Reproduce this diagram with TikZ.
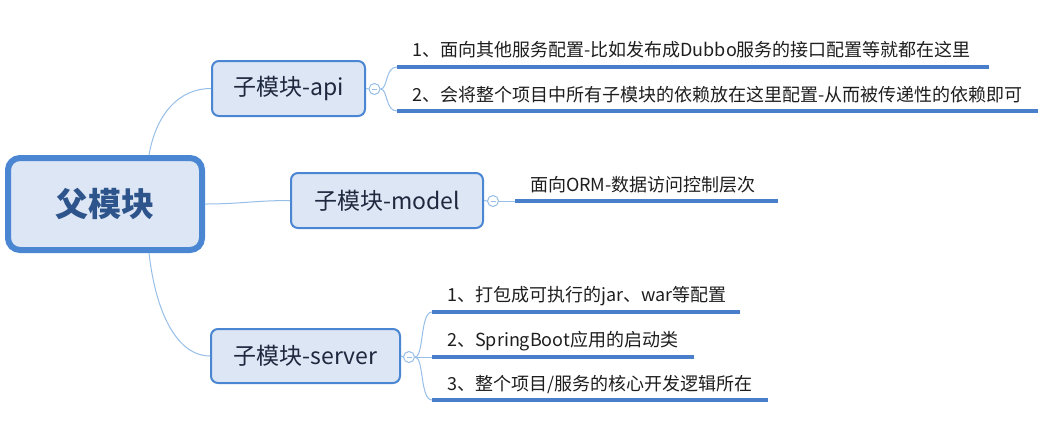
\documentclass[tikz,border=0pt]{standalone}
\usepackage{fontspec}
\newfontfamily\cjk{Noto Sans CJK SC}
\definecolor{boxborder}{RGB}{74,134,210}
\definecolor{boxfill}{RGB}{220,230,244}
\definecolor{roottext}{RGB}{46,84,140}
\definecolor{subtext}{RGB}{30,40,62}
\definecolor{leaftext}{RGB}{30,30,30}
\definecolor{uline}{RGB}{72,126,202}
\definecolor{conn}{RGB}{150,190,232}
\tikzset{
  rootbox/.style={draw=boxborder, fill=boxfill, line width=6pt, rounded corners=12pt,
    minimum width=194pt, minimum height=92pt, inner sep=0pt,
    font=\cjk\bfseries\fontsize{33}{36}\selectfont, text=roottext},
  subbox/.style={draw=boxborder, fill=boxfill, line width=2pt, rounded corners=7pt,
    inner sep=0pt, font=\cjk\fontsize{23}{26}\selectfont, text=subtext},
  leaf/.style={anchor=base west, inner sep=0pt, font=\cjk\fontsize{18}{21}\selectfont, text=leaftext},
  ul/.style={draw=uline, line width=3.5pt},
  cn/.style={draw=conn, line width=1pt},
  fold/.style={circle, draw=conn, fill=white, line width=1pt, minimum size=11pt, inner sep=0pt,
    path picture={\draw[conn, line width=0.8pt] ([xshift=-2.5pt]path picture bounding box.center) -- ([xshift=2.5pt]path picture bounding box.center);}}
}
\begin{document}
\begin{tikzpicture}[x=1pt,y=-1pt]
\useasboundingbox (0,0) rectangle (1051,424);
% boxes
\node[rootbox] (root) at (105,204) {父模块};
\node[subbox, minimum width=153pt, minimum height=55pt] (api) at (288.5,88.5) {子模块-api};
\node[subbox, minimum width=192pt, minimum height=55pt] (model) at (387,200.5) {子模块-model};
\node[subbox, minimum width=189pt, minimum height=54pt] (server) at (305.5,356) {子模块-server};
% root connectors
\coordinate (rtop) at (149,155);
\coordinate (rbot) at (149,253);
\draw[cn] (rtop) .. controls (156,115) and (178,88.5) .. (api.west);
\draw[cn] (root.east) .. controls (240,204) and (255,200.5) .. (model.west);
\draw[cn] (rbot) .. controls (156,315) and (178,356) .. (server.west);
% fold circles
\node[fold] (fa) at (374.5,89) {};
\node[fold] (fm) at (493,201) {};
\node[fold] (fs) at (409,357) {};
\draw[cn] (api.east) -- (fa.west);
\draw[cn] (model.east) -- (fm.west);
\draw[cn] (server.east) -- (fs.west);
% api leaves
\coordinate (a1s) at (397,67); \coordinate (a1e) at (989,67);
\coordinate (a2s) at (397,111); \coordinate (a2e) at (1038,111);
\draw[cn] (fa.east) .. controls (388,89) and (385,67) .. (a1s);
\draw[cn] (fa.east) .. controls (388,89) and (385,111) .. (a2s);
\draw[ul] (a1s) -- (a1e);
\draw[ul] (a2s) -- (a2e);
\node[leaf] (al1) at (412,56) {1、面向其他服务配置-比如发布成Dubbo服务的接口配置等就都在这里};
\node[leaf] (al2) at (412,101) {2、会将整个项目中所有子模块的依赖放在这里配置-从而被传递性的依赖即可};
% model leaf
\coordinate (m1s) at (515,201); \coordinate (m1e) at (778,201);
\draw[cn] (fm.east) -- (m1s);
\draw[ul] (m1s) -- (m1e);
\node[leaf] (ml1) at (530,191) {面向ORM-数据访问控制层次};
% server leaves
\coordinate (s1s) at (432,312); \coordinate (s1e) at (740,312);
\coordinate (s2s) at (432,357); \coordinate (s2e) at (694,357);
\coordinate (s3s) at (432,400); \coordinate (s3e) at (768,400);
\draw[cn] (fs.east) .. controls (424,357) and (420,312) .. (s1s);
\draw[cn] (fs.east) -- (s2s);
\draw[cn] (fs.east) .. controls (424,357) and (420,400) .. (s3s);
\draw[ul] (s1s) -- (s1e);
\draw[ul] (s2s) -- (s2e);
\draw[ul] (s3s) -- (s3e);
\node[leaf] (sl1) at (447,301) {1、打包成可执行的jar、war等配置};
\node[leaf] (sl2) at (447,346) {2、SpringBoot应用的启动类};
\node[leaf] (sl3) at (447,390) {3、整个项目/服务的核心开发逻辑所在};
\end{tikzpicture}
\end{document}
